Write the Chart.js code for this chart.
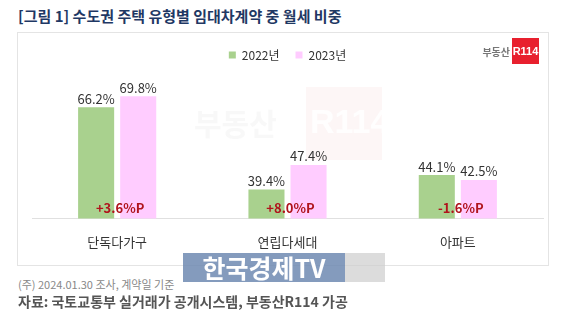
<!DOCTYPE html>
<html>
<head>
<meta charset="utf-8">
<script src="https://cdn.jsdelivr.net/npm/chart.js@4/dist/chart.umd.min.js"></script>
<style>
  body { margin: 0; width: 567px; height: 325px; background: #fff; position: relative; overflow: hidden;
         font-family: "Noto Sans CJK KR", "Noto Sans", sans-serif; }
  #title { position: absolute; left: 18px; top: 5px; font-size: 15px; font-weight: bold; color: #1f3864; }
  #box { position: absolute; left: 17px; top: 32px; width: 530px; height: 232px; border: 1px solid #e4e4e4; }
  #logo { position: absolute; right: 9px; top: 5px; display: flex; align-items: center; }
  #logo .t { font-size: 10px; color: #777; font-weight: bold; margin-right: 2px; }
  #logo .r { background: #e8202e; color: #fff; font-size: 11px; font-weight: bold; width: 27px; height: 26px;
             line-height: 26px; text-align: center; font-family: "Liberation Sans", sans-serif; }
  #note { position: absolute; left: 18px; top: 276px; font-size: 11px; color: #888; }
  #src { position: absolute; left: 18px; top: 291px; font-size: 14px; font-weight: bold; color: #555; }
  #tv { position: absolute; left: 183px; top: 253px; width: 162px; height: 29px; background: rgba(110,138,178,0.85);
        color: #fff; font-size: 25px; font-weight: bold; line-height: 29px; text-align: center; }
  #tv2 { position: absolute; left: 345px; top: 253px; width: 40px; height: 29px; background: rgba(205,205,205,0.7); }
</style>
</head>
<body>
<div id="title">[그림 1] 수도권 주택 유형별 임대차계약 중 월세 비중</div>
<div id="box">
  <canvas id="chart" width="530" height="232"></canvas>
  <div id="logo"><span class="t">부동산</span><span class="r">R114</span></div>
</div>
<div id="note">(주) 2024.01.30 조사, 계약일 기준</div>
<div id="src">자료: 국토교통부 실거래가 공개시스템, 부동산R114 가공</div>
<div id="tv">한국경제TV</div>
<div id="tv2"></div>
<script>
const categories = ['단독다가구', '연립다세대', '아파트'];
const values2022 = [66.2, 39.4, 44.1];
const values2023 = [69.8, 47.4, 42.5];
const diffLabels = ['+3.6%P', '+8.0%P', '-1.6%P'];

const fontFamily = '"Noto Sans CJK KR", "Noto Sans", sans-serif';

// faint watermark behind the bars
const watermark = {
  id: 'watermark',
  beforeDatasetsDraw(chart) {
    const ctx = chart.ctx;
    ctx.save();
    ctx.fillStyle = 'rgba(245,205,205,0.18)';
    ctx.fillRect(288, 54, 76, 73);
    ctx.fillStyle = 'rgba(200,200,200,0.12)';
    ctx.font = 'bold 30px ' + fontFamily;
    ctx.textBaseline = 'middle';
    ctx.fillText('부동산', 176, 91);
    ctx.fillStyle = 'rgba(255,255,255,0.9)';
    ctx.font = 'bold 34px "Liberation Sans"';
    ctx.fillText('R114', 292, 91);
    ctx.restore();
  }
};

const barLabels = {
  id: 'barLabels',
  afterDatasetsDraw(chart) {
    const ctx = chart.ctx;
    ctx.save();
    ctx.textAlign = 'center';
    ctx.font = '13px ' + fontFamily;
    ctx.fillStyle = '#333';
    ctx.textBaseline = 'bottom';
    chart.data.datasets.forEach((ds, i) => {
      chart.getDatasetMeta(i).data.forEach((bar, j) => {
        ctx.fillText(ds.data[j].toFixed(1) + '%', bar.x, bar.y - 2);
      });
    });
    ctx.font = 'bold 13px ' + fontFamily;
    ctx.fillStyle = '#b0141c';
    ctx.textBaseline = 'middle';
    const xScale = chart.scales.x;
    const yBase = chart.scales.y.getPixelForValue(30);
    diffLabels.forEach((t, j) => {
      ctx.fillText(t, xScale.getPixelForValue(j) + 3, yBase - 10);
    });
    ctx.restore();
  }
};

new Chart(document.getElementById('chart'), {
  type: 'bar',
  data: {
    labels: categories,
    datasets: [
      { label: '2022년', data: values2022, backgroundColor: '#a9d18e' },
      { label: '2023년', data: values2023, backgroundColor: '#ffccff' },
    ],
  },
  options: {
    responsive: false,
    animation: false,
    layout: { padding: { left: 14, right: 5, top: 0, bottom: 7 } },
    datasets: { bar: { categoryPercentage: 0.494, barPercentage: 0.857 } },
    plugins: {
      tooltip: { enabled: false },
      legend: {
        position: 'top',
        labels: {
          boxWidth: 7, boxHeight: 7, padding: 16,
          color: '#333',
          font: { family: fontFamily, size: 12 },
        },
      },
    },
    scales: {
      x: {
        grid: { display: false },
        border: { display: true, color: '#e0e0e0' },
        ticks: { color: '#333', font: { family: fontFamily, size: 13 }, padding: 8 },
      },
      y: { display: false, min: 30, max: 78 },
    },
  },
  plugins: [watermark, barLabels],
});
</script>
</body>
</html>
